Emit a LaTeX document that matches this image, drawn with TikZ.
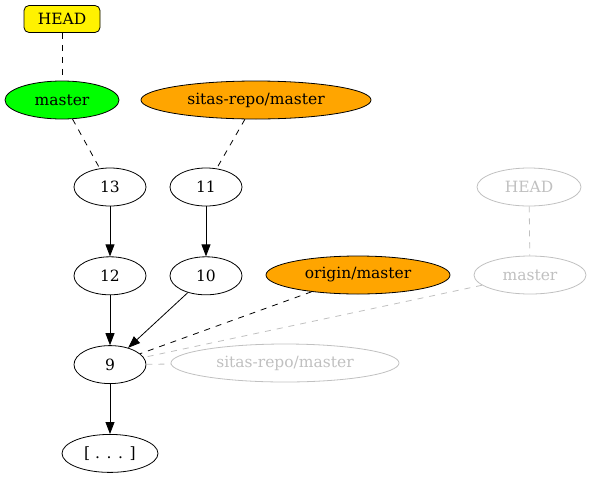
\documentclass[tikz,border=0pt]{standalone}
\usepackage{fontspec}
\setmainfont{DejaVu Serif}
\usetikzlibrary{arrows.meta, positioning, shapes.geometric}
\definecolor{faded}{RGB}{192,192,192}
\definecolor{branchgreen}{RGB}{0,255,0}
\definecolor{remoteorange}{RGB}{255,165,0}

\begin{document}
\begin{tikzpicture}[x=1pt, y=-1pt, line width=0.8pt,
    commit/.style={draw, ellipse, minimum width=72pt, minimum height=38pt, inner sep=0pt, font=\fontsize{15.5}{18}\selectfont},
    ref/.style={commit, minimum width=#1},
    ghost/.style={draw=faded, text=faded},
    link/.style={dash pattern=on 6pt off 6pt},
    parent/.style={-{Triangle[length=12pt, width=9pt]}}]

    \useasboundingbox (0,0) rectangle (591,477);

    % Nodes for head and branches
    \node (head) [draw, rounded corners=5pt, fill=yellow, minimum width=76pt, minimum height=27pt, inner sep=0pt, font=\fontsize{15.5}{18}\selectfont] at (62,19) {HEAD};
    \node (master) [ref=114pt, fill=branchgreen] at (62,100) {master};
    \node (sitasmaster) [ref=230pt, fill=remoteorange] at (256,100) {sitas-repo/master};

    % Nodes for commits
    \node (c13) [commit] at (110,187) {13};
    \node (c11) [commit] at (206,187) {11};
    \node (c12) [commit, below=50pt of c13] {12};
    \node (c10) [commit, below=50pt of c11] {10};
    \node (c9) [commit, below=50pt of c12] {9};
    \node (older) [commit, minimum width=96pt, below=50pt of c9] {[ . . . ]};

    % Nodes for origin and the faded remote refs
    \node (originmaster) [ref=184pt, fill=remoteorange] at (358,275) {origin/master};
    \node (remotehead) [ref=104pt, ghost] at (529,187) {HEAD};
    \node (remotemaster) [ref=112pt, ghost] at (530,275) {master};
    \node (remotesitas) [ref=228pt, ghost] at (285,363) {sitas-repo/master};

    % Draw dashed links from refs to commits
    \draw[link] (head) -- (master);
    \draw[link] (master) -- (c13);
    \draw[link] (sitasmaster) -- (c11);
    \draw[link] (originmaster) -- (c9);
    \draw[link, faded] (remotehead) -- (remotemaster);
    \draw[link, faded] (remotemaster) -- (c9);
    \draw[link, faded] (c9) -- (remotesitas);

    % Draw arrows from commits to parents
    \draw[parent] (c13) -- (c12);
    \draw[parent] (c11) -- (c10);
    \draw[parent] (c12) -- (c9);
    \draw[parent] (c10) -- (c9);
    \draw[parent] (c9) -- (older);

\end{tikzpicture}
\end{document}
